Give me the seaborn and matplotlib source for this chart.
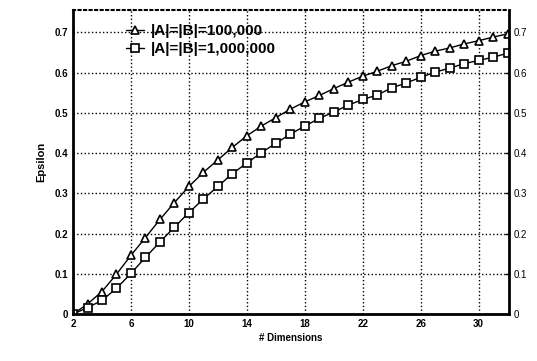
import numpy as np
import pandas as pd
import matplotlib
matplotlib.use('Agg')
from matplotlib import pyplot as plt
import seaborn as sns

# Veri
dims = list(range(2, 33))
eps_100k = [0.0, 0.025, 0.056, 0.099, 0.146, 0.19, 0.235, 0.277, 0.317, 0.352,
            0.383, 0.414, 0.443, 0.467, 0.488, 0.509, 0.527, 0.543, 0.560, 0.576,
            0.591, 0.603, 0.617, 0.628, 0.642, 0.653, 0.661, 0.671, 0.679, 0.688, 0.696]
eps_1m = [0.0, 0.016, 0.034, 0.064, 0.101, 0.141, 0.179, 0.216, 0.252, 0.286,
          0.317, 0.349, 0.375, 0.401, 0.424, 0.447, 0.467, 0.486, 0.502, 0.519,
          0.533, 0.544, 0.562, 0.574, 0.588, 0.601, 0.611, 0.622, 0.630, 0.638, 0.648]
labels = ['|A|=|B|=100,000', '|A|=|B|=1,000,000']
x_ticks = [2, 6, 10, 14, 18, 22, 26, 30]
y_ticks = [0, 0.1, 0.2, 0.3, 0.4, 0.5, 0.6, 0.7]
y_tick_labels = ['0', '0.1', '0.2', '0.3', '0.4', '0.5', '0.6', '0.7']

df = pd.DataFrame({
    'dim': dims * 2,
    'eps': eps_100k + eps_1m,
    'set': [labels[0]] * len(dims) + [labels[1]] * len(dims),
})

sns.set_style('white', {'text.color': 'black', 'axes.labelcolor': 'black',
                        'xtick.color': 'black', 'ytick.color': 'black'})
plt.rcParams['font.family'] = ['Liberation Sans', 'DejaVu Sans']

fig = plt.figure(figsize=(5.37, 3.61), dpi=100)
ax = fig.add_axes([0.136, 0.130, 0.812, 0.842])

sns.lineplot(data=df, x='dim', y='eps', hue='set', style='set',
             markers=['^', 's'], dashes=False, palette=['black', 'black'],
             markersize=6, markerfacecolor='white', markeredgecolor='black',
             markeredgewidth=1.2, linewidth=1.0, ax=ax)

ax.set_xlim(2, 32.1)
ax.set_ylim(0, 0.755)
ax.set_xticks(x_ticks)
ax.set_yticks(y_ticks)
ax.set_yticklabels(y_tick_labels)
ax.tick_params(axis='both', labelsize=7, length=3, direction='in', width=1,
               colors='black')
for lbl in ax.get_xticklabels() + ax.get_yticklabels():
    lbl.set_fontweight('bold')
ax.tick_params(axis='y', right=True, labelright=True)

ax.grid(True, color='black', linestyle=':', linewidth=1.0)

for side in ['left', 'bottom', 'right']:
    ax.spines[side].set_linewidth(2)
    ax.spines[side].set_color('black')
ax.spines['top'].set_linestyle(':')
ax.spines['top'].set_linewidth(1.5)
ax.spines['top'].set_color('black')

ax.set_xlabel('# Dimensions', fontsize=7, fontweight='bold', labelpad=3,
              color='black')
ax.set_ylabel('Epsilon', fontsize=8, fontweight='bold', labelpad=6,
              color='black')

leg = ax.legend(loc='upper left', bbox_to_anchor=(0.09, 1.0), frameon=False,
                prop={'size': 11, 'weight': 'bold'}, handlelength=1.2,
                handletextpad=0.4, labelspacing=0.3)
for t in leg.get_texts():
    t.set_color('black')
for h in leg.legend_handles:
    h.set_markerfacecolor('white')
    h.set_markeredgecolor('black')

fig.savefig('out.png', dpi=100)
